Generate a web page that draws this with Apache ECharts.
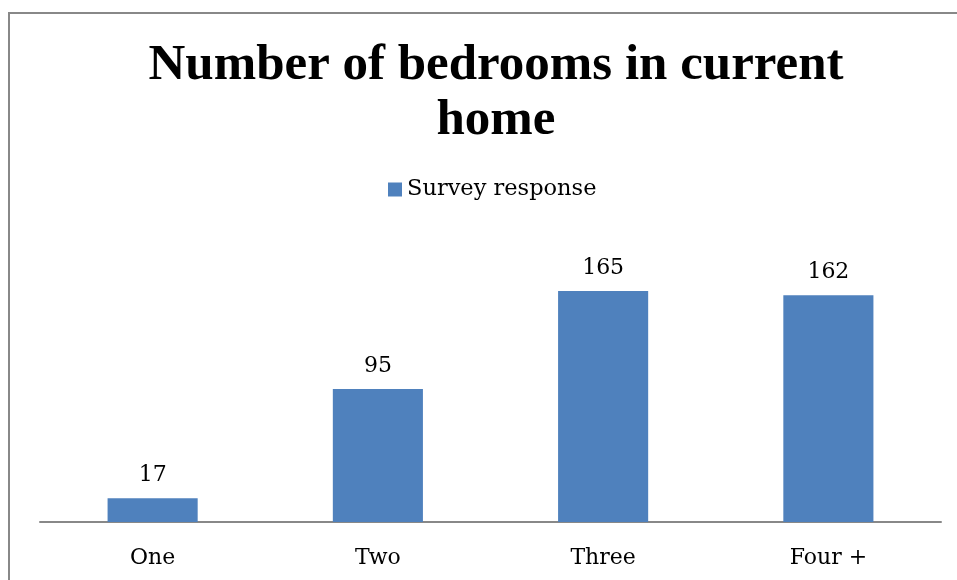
<!DOCTYPE html>
<html>
<head>
<meta charset="utf-8">
<script src="https://cdn.jsdelivr.net/npm/echarts@6/dist/echarts.min.js"></script>
<style>
  html, body { margin: 0; padding: 0; background: #fff; }
  #chart { width: 957px; height: 580px; }
</style>
</head>
<body>
<div id="chart"></div>
<script>
// Bedroom categories and survey counts
const categories = ['One', 'Two', 'Three', 'Four +'];
const responses = [17, 95, 165, 162];
const seriesName = 'Survey response';
const titleText = 'Number of bedrooms in current\nhome';

const titleFont = '"Liberation Serif", "DejaVu Serif", serif';
const bodyFont = '"DejaVu Serif", "Liberation Serif", serif';
const chart = echarts.init(document.getElementById('chart'));

chart.setOption({
  backgroundColor: '#ffffff',
  animation: false,
  graphic: [{
    type: 'rect',
    shape: { x: 9, y: 13, width: 1100, height: 700 },
    style: { fill: 'none', stroke: '#888888', lineWidth: 2 },
    silent: true
  }],
  title: {
    text: titleText,
    left: 491,
    top: 33,
    textAlign: 'center',
    textStyle: {
      fontFamily: titleFont,
      fontWeight: 'bold',
      fontSize: 51,
      lineHeight: 55,
      color: '#000'
    }
  },
  legend: {
    data: [seriesName],
    left: 383,
    top: 173,
    icon: 'rect',
    itemWidth: 14,
    itemHeight: 14,
    itemGap: 6,
    textStyle: { fontFamily: bodyFont, fontSize: 22.5, color: '#000' }
  },
  grid: { left: 40, right: 16, top: 270, bottom: 58 },
  xAxis: {
    type: 'category',
    data: categories,
    axisLine: { lineStyle: { color: '#888888', width: 2 } },
    axisTick: { show: false },
    axisLabel: { fontFamily: bodyFont, fontSize: 22, color: '#000', margin: 25 }
  },
  yAxis: {
    type: 'value',
    min: 0,
    max: 180,
    show: false,
    splitLine: { show: false }
  },
  series: [{
    name: seriesName,
    type: 'bar',
    data: responses,
    barCategoryGap: '60%',
    itemStyle: { color: '#4F81BD' },
    label: {
      show: true,
      position: 'top',
      distance: 12,
      fontFamily: bodyFont,
      fontSize: 22,
      color: '#000'
    }
  }]
});
</script>
</body>
</html>
